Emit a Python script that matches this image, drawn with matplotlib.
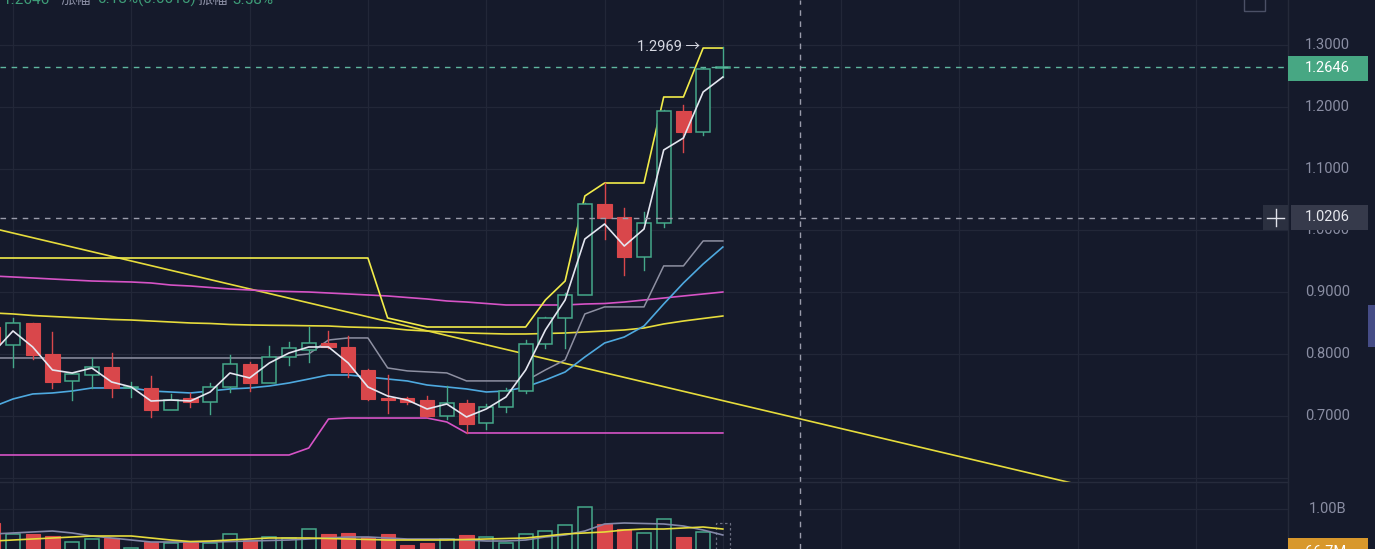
import matplotlib
matplotlib.use('Agg')
import matplotlib.pyplot as plt
from matplotlib.patches import Rectangle
from matplotlib.lines import Line2D

plt.rcParams['font.family'] = ['Roboto', 'Noto Sans CJK SC', 'DejaVu Sans']

# ---------------- data (bar index -1 .. 36) ----------------
idx = list(range(-1, 37))
opens = [0.8439, 0.8148, 0.8504, 0.8002, 0.7566, 0.7663, 0.7792, 0.7460, 0.7453, 0.7097,
         0.7291, 0.7226, 0.7469, 0.7841, 0.7534, 0.7954, 0.8067, 0.8180, 0.8116, 0.7743,
         0.7291, 0.7291, 0.7258, 0.7000, 0.7210, 0.6886, 0.7145, 0.7404, 0.8164, 0.8585,
         0.8957, 1.0428, 1.0218, 0.9571, 1.0121, 1.1933, 1.1593, 1.2631]
highs = [0.8500, 0.8585, 0.8504, 0.8358, 0.7700, 0.7938, 0.8019, 0.7550, 0.7647, 0.7355,
         0.7372, 0.7534, 0.7986, 0.7873, 0.8132, 0.8197, 0.8439, 0.8375, 0.8294, 0.7760,
         0.7663, 0.7300, 0.7323, 0.7485, 0.7258, 0.7194, 0.7453, 0.8229, 0.8600, 0.8990,
         1.0440, 1.0768, 1.0364, 1.0299, 1.1950, 1.2030, 1.2620, 1.2969]
lows = [0.8100, 0.7792, 0.7922, 0.7453, 0.7258, 0.7453, 0.7307, 0.7310, 0.6983, 0.7097,
        0.7145, 0.7032, 0.7388, 0.7404, 0.7534, 0.7825, 0.7873, 0.8100, 0.7630, 0.7258,
        0.7048, 0.7194, 0.6983, 0.6951, 0.6725, 0.6789, 0.7065, 0.7372, 0.8100, 0.8100,
        0.8957, 0.9862, 0.9280, 0.9361, 1.0056, 1.1269, 1.1544, 1.2482]
closes = [0.8180, 0.8504, 0.7986, 0.7550, 0.7679, 0.7792, 0.7453, 0.7475, 0.7097, 0.7258,
          0.7226, 0.7469, 0.7841, 0.7534, 0.7954, 0.8100, 0.8180, 0.8116, 0.7711, 0.7275,
          0.7258, 0.7226, 0.7000, 0.7210, 0.6870, 0.7145, 0.7404, 0.8164, 0.8585, 0.8957,
          1.0428, 1.0202, 0.9571, 1.0121, 1.1933, 1.1593, 1.2612, 1.2646]
volumes_m = [670, 407, 407, 359, 215, 287, 311, 72, 215, 191, 215, 191, 407, 263, 335, 311,
             526, 407, 431, 335, 407, 144, 191, 287, 383, 335, 191, 407, 478, 622, 1053, 646,
             526, 431, 766, 335, 455, 670]

ma_white = [0.8027, 0.8375, 0.8116, 0.7744, 0.7695, 0.7776, 0.7550, 0.7469, 0.7242, 0.7258,
            0.7242, 0.7388, 0.7695, 0.7615, 0.7857, 0.8019, 0.8116, 0.8116, 0.7857, 0.7469,
            0.7323, 0.7258, 0.7113, 0.7194, 0.6984, 0.7113, 0.7307, 0.7744, 0.8391, 0.8876,
            0.9862, 1.0105, 0.9749, 1.0024, 1.1302, 1.1496, 1.2240, 1.2482]
base_gray = [0.7938, 0.7938, 0.7938, 0.7938, 0.7938, 0.7938, 0.7938, 0.7938, 0.7938, 0.7938,
             0.7938, 0.7938, 0.7938, 0.7938, 0.7938, 0.7970, 0.8003, 0.8229, 0.8262, 0.8262,
             0.7777, 0.7729, 0.7713, 0.7696, 0.7567, 0.7567, 0.7567, 0.7567, 0.7745, 0.7907,
             0.8650, 0.8764, 0.8764, 0.8764, 0.9427, 0.9427, 0.9831, 0.9831]
ma_blue = [0.7150, 0.7275, 0.7356, 0.7372, 0.7404, 0.7453, 0.7453, 0.7453, 0.7404, 0.7388,
           0.7372, 0.7404, 0.7437, 0.7453, 0.7485, 0.7534, 0.7598, 0.7663, 0.7663, 0.7631,
           0.7598, 0.7566, 0.7501, 0.7469, 0.7437, 0.7388, 0.7404, 0.7469, 0.7582, 0.7711,
           0.7954, 0.8180, 0.8277, 0.8455, 0.8811, 0.9151, 0.9458, 0.9733]
ma_magenta = [0.9264, 0.9248, 0.9232, 0.9215, 0.9199, 0.9183, 0.9175, 0.9167, 0.9151, 0.9118,
              0.9102, 0.9078, 0.9054, 0.9038, 0.9021, 0.9013, 0.9005, 0.8989, 0.8973, 0.8957,
              0.8941, 0.8916, 0.8892, 0.8860, 0.8843, 0.8819, 0.8795, 0.8795, 0.8795, 0.8795,
              0.8811, 0.8819, 0.8843, 0.8876, 0.8908, 0.8941, 0.8973, 0.9005]
ma_yellow = [0.8666, 0.8650, 0.8625, 0.8609, 0.8593, 0.8577, 0.8561, 0.8552, 0.8536, 0.8520,
             0.8504, 0.8496, 0.8480, 0.8472, 0.8467, 0.8464, 0.8459, 0.8455, 0.8439, 0.8431,
             0.8423, 0.8391, 0.8374, 0.8358, 0.8342, 0.8334, 0.8326, 0.8326, 0.8334, 0.8342,
             0.8358, 0.8374, 0.8391, 0.8423, 0.8488, 0.8536, 0.8577, 0.8617]
upper_step = [0.9555, 0.9555, 0.9555, 0.9555, 0.9555, 0.9555, 0.9555, 0.9555, 0.9555, 0.9555,
              0.9555, 0.9555, 0.9555, 0.9555, 0.9555, 0.9555, 0.9555, 0.9555, 0.9555, 0.9555,
              0.8585, 0.8512, 0.8439, 0.8439, 0.8439, 0.8439, 0.8439, 0.8439, 0.8876, 0.9183,
              1.0558, 1.0768, 1.0768, 1.0768, 1.2159, 1.2159, 1.2951, 1.2951]
lower_step = [0.6369, 0.6369, 0.6369, 0.6369, 0.6369, 0.6369, 0.6369, 0.6369, 0.6369, 0.6369,
              0.6369, 0.6369, 0.6369, 0.6369, 0.6369, 0.6369, 0.6482, 0.6951, 0.6967, 0.6967,
              0.6967, 0.6967, 0.6967, 0.6903, 0.6725, 0.6725, 0.6725, 0.6725, 0.6725, 0.6725,
              0.6725, 0.6725, 0.6725, 0.6725, 0.6725, 0.6725, 0.6725, 0.6725]
vol_ma_yellow = [239, 263, 287, 311, 335, 359, 359, 359, 311, 263, 227, 239, 263, 287, 311, 311,
                 311, 299, 287, 275, 263, 263, 263, 263, 275, 287, 299, 311, 359, 407, 431, 455,
                 502, 526, 526, 550, 574, 526]
vol_ma_gray = [407, 431, 455, 478, 431, 359, 311, 263, 215, 215, 215, 215, 227, 239, 251, 263,
               287, 311, 335, 335, 311, 287, 287, 287, 263, 239, 239, 263, 335, 383, 478, 646,
               670, 658, 646, 598, 502, 383]

trend_x = [-1, 60]
trend_y = [1.0034, 0.5441]

price_ticks = [1.3, 1.2, 1.1, 1.0, 0.9, 0.8, 0.7]
price_tick_labels = ['1.3000', '1.2000', '1.1000', '1.0000', '0.9000', '0.8000', '0.7000']
last_price = 1.2646
cross_price = 1.0206
cross_index = 39.9
high_label = 1.2969
vol_tick = 1000
vol_tick_label = '1.00B'
last_vol_label = '66.7M'

# ---------------- style ----------------
BG = '#151a2b'
GRID = '#222738'
GREEN = '#45a88a'
RED = '#d9474b'
AXTXT = '#8a8ea3'

W, H = 1375, 549
fig = plt.figure(figsize=(W / 100, H / 100), dpi=100)
fig.patch.set_facecolor(BG)

def fx(px):
    return px / W

def fy(py):
    return 1 - py / H

PANE_R = 1288
PANE_B = 482
ax = fig.add_axes([0, fy(PANE_B), PANE_R / W, PANE_B / H])
axv = fig.add_axes([0, 0, PANE_R / W, (H - PANE_B) / H])
for a in (ax, axv):
    a.set_facecolor(BG)
    a.set_xticks([])
    a.set_yticks([])
    for s in a.spines.values():
        s.set_visible(False)
    a.set_xlim(-0.659, 64.66)

ax.set_ylim(0.59322, 1.37278)
axv.set_ylim(47.8, 1650.7)

# grid
for k in range(0, 66, 6):
    ax.axvline(k, color=GRID, lw=0.9, zorder=0)
    axv.axvline(k, color=GRID, lw=0.9, zorder=0)
for p in [0.6] + price_ticks:
    ax.axhline(p, color=GRID, lw=0.9, zorder=0)
axv.axhline(vol_tick, color=GRID, lw=0.9, zorder=0)
fig.add_artist(Line2D([fx(0), fx(PANE_R)], [fy(PANE_B)] * 2, color='#262b3c', lw=1))

# lines
ax.plot(trend_x, trend_y, color='#e6dc3c', lw=1.2, zorder=2)
ax.plot(idx, ma_magenta, color='#d653c6', lw=1.2, zorder=2)
ax.plot(idx, lower_step, color='#d653c6', lw=1.2, zorder=2)
ax.plot(idx, ma_yellow, color='#e6dc3c', lw=1.2, zorder=2)
ax.plot(idx, upper_step, color='#f2ec4a', lw=1.2, zorder=2)
ax.plot(idx, base_gray, color='#8e90a2', lw=1.1, zorder=2)
ax.plot(idx, ma_blue, color='#4ea9df', lw=1.2, zorder=2)

# candles
bw = 0.72
for i, o, h, l, c in zip(idx, opens, highs, lows, closes):
    up = c >= o
    lo, hi = min(o, c), max(o, c)
    if up:
        ax.plot([i, i], [hi, h], color=GREEN, lw=1.0, zorder=3)
        ax.plot([i, i], [l, lo], color=GREEN, lw=1.0, zorder=3)
        ax.add_patch(Rectangle((i - bw / 2, lo), bw, max(hi - lo, 0.0015),
                               facecolor=BG, edgecolor=GREEN, lw=1.1, zorder=3))
    else:
        ax.plot([i, i], [l, h], color=RED, lw=1.0, zorder=3)
        ax.add_patch(Rectangle((i - bw / 2, lo), bw, max(hi - lo, 0.0015),
                               facecolor=RED, edgecolor=RED, lw=0.8, zorder=3))

ax.plot(idx, ma_white, color='#e4e6f0', lw=1.2, zorder=4)

# price line / crosshair
ax.axhline(last_price, color='#5fb7a0', lw=1.0, ls=(0, (4, 4)), zorder=5)
ax.plot([-0.659, (1263 - 13) / 19.72], [cross_price, cross_price], color='#9a9cab',
        lw=1.0, ls=(0, (4, 4)), zorder=5)
ax.axvline(cross_index, color='#9a9cab', lw=1.0, ls=(0, (4, 4)), zorder=5)
axv.axvline(cross_index, color='#9a9cab', lw=1.0, ls=(0, (4, 4)), zorder=5)
ax.text(idx[-1] - 1.15, high_label, f'{high_label:.4f} \u2192', ha='right', va='center',
        color='#d6d8e2', fontsize=10.5, zorder=6)

# volume
for i, o, c, v in zip(idx, opens, closes, volumes_m):
    if i == idx[-1]:
        axv.add_patch(Rectangle((i - bw / 2, 0), bw, v, facecolor='none',
                                edgecolor='#6a6e80', lw=0.9, ls=(0, (2, 2)), zorder=3))
    elif c >= o:
        axv.add_patch(Rectangle((i - bw / 2, 0), bw, v, facecolor=BG, edgecolor=GREEN,
                                lw=1.1, zorder=3))
    else:
        axv.add_patch(Rectangle((i - bw / 2, 0), bw, v, facecolor=RED, edgecolor=RED,
                                lw=0.8, zorder=3))
axv.plot(idx, vol_ma_gray, color='#8488a8', lw=1.2, zorder=4)
axv.plot(idx, vol_ma_yellow, color='#e6dc3c', lw=1.2, zorder=4)

# right price scale
fig.add_artist(Line2D([fx(PANE_R)] * 2, [0, 1], color='#252a3a', lw=1))

def py_of(p):
    return 45 + (1.3 - p) * 618.3

for p, t in zip(price_ticks, price_tick_labels):
    fig.text(fx(1305), fy(py_of(p)), t, color=AXTXT, fontsize=10.5, ha='left', va='center')
fig.text(fx(1309), fy(509), vol_tick_label, color=AXTXT, fontsize=10.5, ha='left', va='center')

fig.add_artist(Rectangle((fx(1288), fy(81)), fx(80), 25 / H, facecolor='#47a783',
                         edgecolor='none', zorder=5))
fig.text(fx(1305), fy(68), f'{last_price:.4f}', color='white', fontsize=10.5, ha='left',
         va='center', zorder=6)
fig.add_artist(Rectangle((fx(1291), fy(230)), fx(77), 25 / H, facecolor='#363a4b',
                         edgecolor='none', zorder=5))
fig.text(fx(1305), fy(217), f'{cross_price:.4f}', color='#e6e8ee', fontsize=10.5,
         ha='left', va='center', zorder=6)
fig.add_artist(Rectangle((fx(1263), fy(230)), fx(25), 25 / H, facecolor='#2b3040',
                         edgecolor='none', zorder=5))
fig.add_artist(Line2D([fx(1267), fx(1284)], [fy(217.5)] * 2, color='#e0e2ea', lw=1, zorder=6))
fig.add_artist(Line2D([fx(1275.5)] * 2, [fy(209), fy(226)], color='#e0e2ea', lw=1, zorder=6))
fig.add_artist(Rectangle((fx(1288), fy(562)), fx(80), 24 / H, facecolor='#d8982c',
                         edgecolor='none', zorder=5))
fig.text(fx(1305), fy(552), last_vol_label, color='white', fontsize=10.5, ha='left',
         va='center', zorder=6)
fig.add_artist(Rectangle((fx(1368), fy(347)), fx(7), 42 / H, facecolor='#454c86',
                         edgecolor='none', zorder=5))
fig.add_artist(Rectangle((fx(1244), fy(11)), fx(21), 16 / H, facecolor='none',
                         edgecolor='#4b5066', lw=1, zorder=5))

# top legend row (cut off by top edge)
GTXT = '#3e9d78'
row = [(3, '1.2646', GTXT), (60, '涨幅', AXTXT), (97, '0.18%(0.0015)', GTXT),
       (197, '振幅', AXTXT), (232, '3.58%', GTXT)]
for x, t, col in row:
    fig.text(fx(x), fy(-0.5), t, color=col, fontsize=11, ha='left', va='center')

fig.savefig('out.png', dpi=100, facecolor=BG)
